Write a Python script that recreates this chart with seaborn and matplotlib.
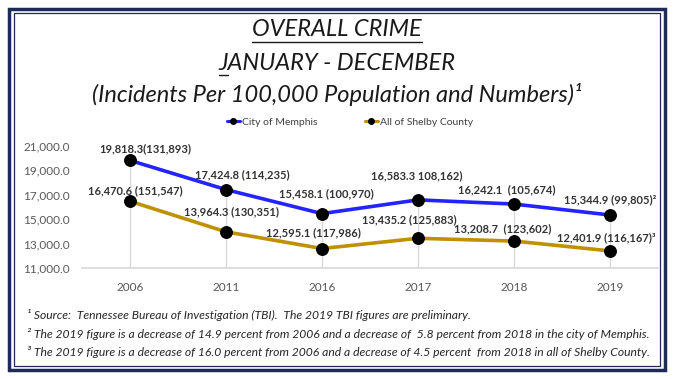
import matplotlib
matplotlib.use("Agg")
import matplotlib.pyplot as plt
import matplotlib.patches as patches
from matplotlib.lines import Line2D
import pandas as pd
import seaborn as sns

# data
years = ['2006', '2011', '2016', '2017', '2018', '2019']
memphis = [19818.3, 17424.8, 15458.1, 16583.3, 16242.1, 15344.9]
shelby = [16470.6, 13964.3, 12595.1, 13435.2, 13208.7, 12401.9]
memphis_labels = ['19,818.3(131,893)', '17,424.8 (114,235)', '15,458.1 (100,970)',
                  '16,583.3 108,162)', '16,242.1  (105,674)', '15,344.9 (99,805)\u00b2']
shelby_labels = ['16,470.6 (151,547)', '13,964.3 (130,351)', '12,595.1 (117,986)',
                 '13,435.2 (125,883)', '13,208.7  (123,602)', '12,401.9 (116,167)\u00b3']
series_names = ['City of Memphis', 'All of Shelby County']
footnotes = [
    '\u00b9 Source:  Tennessee Bureau of Investigation (TBI).  The 2019 TBI figures are preliminary.',
    '\u00b2 The 2019 figure is a decrease of 14.9 percent from 2006 and a decrease of  5.8 percent from 2018 in the city of Memphis.',
    '\u00b3 The 2019 figure is a decrease of 16.0 percent from 2006 and a decrease of 4.5 percent  from 2018 in all of Shelby County.',
]

df = pd.DataFrame({
    'year': years * 2,
    'value': memphis + shelby,
    'series': [series_names[0]] * len(years) + [series_names[1]] * len(years),
})

sns.set_theme(style='white')
plt.rcParams['font.family'] = ['Lato', 'DejaVu Sans']

W, H = 674, 379
fig = plt.figure(figsize=(W / 100, H / 100), dpi=100)
fig.patch.set_facecolor('white')

ax = fig.add_axes([82 / W, 1 - 268 / H, (658 - 82) / W, (268 - 146) / H])

# drop lines
tops = [max(a, b) for a, b in zip(memphis, shelby)]
ax.vlines(range(len(years)), 11000, tops, color='#d9d9d9', lw=1, zorder=0)

sns.lineplot(data=df, x='year', y='value', hue='series', palette=['#2323ff', '#bf9000'],
             marker='o', markersize=8.5, linewidth=2.6, legend=False, ax=ax, sort=False)
for ln in ax.get_lines():
    if ln.get_marker() == 'o':
        ln.set_markerfacecolor('black')
        ln.set_markeredgecolor('black')

ax.set_xlim(-0.5, 5.5)
ax.set_ylim(11000, 21000)
ax.set_yticks(range(11000, 21001, 2000))
ax.set_yticklabels([f'{v:,.1f}' for v in range(11000, 21001, 2000)])
ax.set_xlabel('')
ax.set_ylabel('')
ax.tick_params(axis='y', length=0, pad=9, labelsize=8.5, labelcolor='#595959')
ax.tick_params(axis='x', length=0, pad=10, labelsize=8.5, labelcolor='#595959')
for s in ['left', 'right', 'top']:
    ax.spines[s].set_visible(False)
ax.spines['bottom'].set_color('#d9d9d9')
ax.patch.set_alpha(0)

# data labels
m_off = [(15, 12), (16, 15), (4, 20), (-1, 24), (-7, 14), (0, 15)]
s_off = [(5, 11), (6, 20), (-9, 16), (-9, 19), (-11, 12), (-4, 13)]
for i in range(len(years)):
    ax.annotate(memphis_labels[i], (i, memphis[i]), xytext=m_off[i], textcoords='offset pixels',
                ha='center', va='center', fontsize=8, fontweight='bold', color='#333333',
                annotation_clip=False)
    ax.annotate(shelby_labels[i], (i, shelby[i]), xytext=s_off[i], textcoords='offset pixels',
                ha='center', va='center', fontsize=8, fontweight='bold', color='#333333',
                annotation_clip=False)

# legend
lines = [l for l in ax.get_lines() if l.get_marker() == 'o']
handles = [Line2D([], [], color=l.get_color(), lw=2.2, marker='o', markersize=4,
                  markerfacecolor='black', markeredgecolor='black') for l in lines]
fig.legend(handles, series_names, loc='center', bbox_to_anchor=(350 / W, 1 - 122 / H),
           ncol=2, frameon=False, fontsize=7.5, handlelength=1.3, handletextpad=0.2,
           columnspacing=4.5, labelcolor='#404040')

# titles
tc = '#1a1a1a'
tsize = 17
t1 = fig.text(0.5, 1 - 30 / H, 'OVERALL CRIME', ha='center', va='center', fontsize=tsize,
              style='italic', color=tc)
t2 = fig.text(0.5, 1 - 63 / H, 'JANUARY - DECEMBER', ha='center', va='center', fontsize=tsize,
              style='italic', color=tc)
t3 = fig.text(0.5, 1 - 95 / H, '(Incidents Per 100,000 Population and Numbers)\u00b9',
              ha='center', va='center', fontsize=tsize, style='italic', color=tc)

fig.canvas.draw()
r = fig.canvas.get_renderer()
b1 = t1.get_window_extent(r)
y_ul = (H - 42) / H
fig.add_artist(Line2D([b1.x0 / W, b1.x1 / W], [y_ul, y_ul], color=tc, lw=1,
                      transform=fig.transFigure))
b2 = t2.get_window_extent(r)
tj = fig.text(0, 0, 'J', fontsize=tsize, style='italic')
bj = tj.get_window_extent(r)
tj.remove()
y_ul2 = (H - 75) / H
fig.add_artist(Line2D([b2.x0 / W, (b2.x0 + bj.width) / W], [y_ul2, y_ul2], color=tc, lw=1,
                      transform=fig.transFigure))

# footnotes
for k, txt in enumerate(footnotes):
    fig.text(27 / W, 1 - (315 + 18.5 * k) / H, txt, ha='left', va='center', fontsize=8.7,
             style='italic', color='#262626')

# double frame
navy = '#1f2b57'
fig.add_artist(patches.Rectangle((9 / W, 9 / H), 656 / W, 361 / H, transform=fig.transFigure,
                                 fill=False, edgecolor=navy, lw=2.5))
fig.add_artist(patches.Rectangle((14 / W, 13 / H), 646 / W, 353 / H, transform=fig.transFigure,
                                 fill=False, edgecolor=navy, lw=0.9))

fig.savefig('out.png', dpi=100, facecolor='white')
